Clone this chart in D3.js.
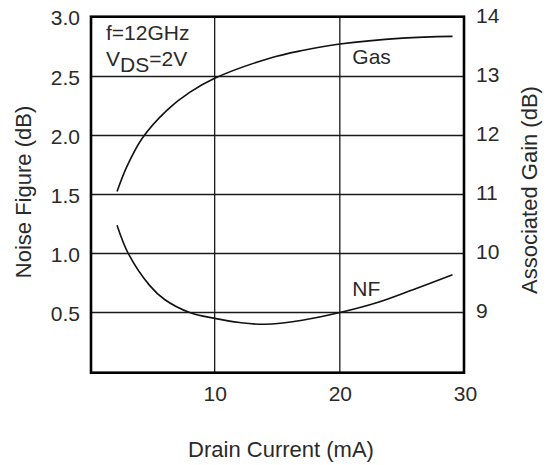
<!DOCTYPE html>
<html>
<head>
<meta charset="utf-8">
<script src="https://cdn.jsdelivr.net/npm/d3@7"></script>
<style>
  html, body { margin: 0; padding: 0; background: #fff; }
  svg text { font-family: "Liberation Sans", Arial, Helvetica, sans-serif; fill: #2a2a2a; }
</style>
</head>
<body>
<svg id="chart" width="549" height="465"></svg>
<script>
// ---- data ----
const xTicks = [10, 20, 30];
const nfTicks = [0.5, 1.0, 1.5, 2.0, 2.5, 3.0];
const gainTicks = [9, 10, 11, 12, 13, 14];

const gasCurrent = [2.2, 3.0, 4.2, 6.2, 8, 10, 14.4, 17, 20, 25, 29];
const gasValues  = [11.05, 11.48, 11.95, 12.43, 12.73, 12.97, 13.31, 13.44, 13.55, 13.65, 13.68];

const nfCurrent = [2.2, 3.1, 4.8, 6, 8, 10, 12, 14, 17, 20, 23, 26, 29];
const nfValues  = [1.24, 1.0, 0.73, 0.61, 0.5, 0.45, 0.415, 0.40, 0.435, 0.50, 0.585, 0.70, 0.82];

// ---- layout ----
const W = 549, H = 465;
const frame = { left: 91, right: 464, top: 16.7, bottom: 372.7 };
const svg = d3.select("#chart");
svg.append("rect").attr("width", W).attr("height", H).attr("fill", "#fff");

const x = d3.scaleLinear().domain([0, 30]).range([89.5, 465]);
const yNF = d3.scaleLinear().domain([0, 3]).range([371.5, 17.5]);
const yG = d3.scaleLinear().domain([8, 14]).range([371.5, 17.5]);

const fs = 21;

// grid
const grid = svg.append("g").attr("stroke", "#1a1a1a").attr("stroke-width", 1.3);
[0.5, 1.0, 1.5, 2.0, 2.5].forEach(v => {
  grid.append("line").attr("x1", frame.left).attr("x2", frame.right)
    .attr("y1", yNF(v)).attr("y2", yNF(v));
});
[10, 20].forEach(v => {
  grid.append("line").attr("y1", frame.top).attr("y2", frame.bottom)
    .attr("x1", x(v)).attr("x2", x(v));
});

// frame
svg.append("rect")
  .attr("x", frame.left).attr("y", frame.top)
  .attr("width", frame.right - frame.left).attr("height", frame.bottom - frame.top)
  .attr("fill", "none").attr("stroke", "#000").attr("stroke-width", 2.6);

// left axis labels
const leftAxis = d3.axisLeft(yNF).tickValues(nfTicks).tickFormat(d3.format(".1f")).tickSize(0).tickPadding(0);
const gl = svg.append("g").attr("transform", "translate(80,0)").call(leftAxis);
gl.select(".domain").remove();
gl.selectAll("text").attr("font-size", fs).attr("dy", "0.36em")
  .attr("y", d => d === 3.0 ? frame.top - yNF(3.0) : 0);

// right axis labels
const rightAxis = d3.axisRight(yG).tickValues(gainTicks).tickFormat(d3.format("d")).tickSize(0).tickPadding(0);
const gr = svg.append("g").attr("transform", "translate(476,0)").call(rightAxis);
gr.select(".domain").remove();
gr.selectAll("text").attr("font-size", fs).attr("dy", "0.36em")
  .attr("y", d => d === 14 ? frame.top - 1.5 - yG(14) : -2.5);

// bottom axis labels
const bottomAxis = d3.axisBottom(x).tickValues(xTicks).tickFormat(d3.format("d")).tickSize(0).tickPadding(0);
const gb = svg.append("g").attr("transform", "translate(0,386)").call(bottomAxis);
gb.select(".domain").remove();
gb.selectAll("text").attr("font-size", fs).attr("dy", "0.71em");

// axis titles
svg.append("text").attr("x", 281).attr("y", 457).attr("text-anchor", "middle")
  .attr("font-size", 22).text("Drain Current (mA)");
svg.append("text").attr("transform", "translate(31,192) rotate(-90)").attr("text-anchor", "middle")
  .attr("font-size", 22).text("Noise Figure (dB)");
svg.append("text").attr("transform", "translate(537,190) rotate(-90)").attr("text-anchor", "middle")
  .attr("font-size", 22).text("Associated Gain (dB)");

// curves
const line = d3.line().curve(d3.curveCatmullRom.alpha(0.5));
svg.append("path")
  .attr("d", line(gasCurrent.map((c, i) => [x(c), yG(gasValues[i])])))
  .attr("fill", "none").attr("stroke", "#111").attr("stroke-width", 1.6);
svg.append("path")
  .attr("d", line(nfCurrent.map((c, i) => [x(c), yNF(nfValues[i])])))
  .attr("fill", "none").attr("stroke", "#111").attr("stroke-width", 1.6);

// annotations
svg.append("text").attr("x", x(21)).attr("y", 64).attr("font-size", fs).text("Gas");
svg.append("text").attr("x", x(21)).attr("y", 296).attr("font-size", fs).text("NF");
svg.append("text").attr("x", 106).attr("y", 40).attr("font-size", fs).text("f=12GHz");
const vds = svg.append("text").attr("x", 106).attr("y", 66).attr("font-size", fs);
vds.append("tspan").text("V");
vds.append("tspan").attr("dy", 6).text("DS");
vds.append("tspan").attr("dy", -6).text("=2V");
</script>
</body>
</html>
